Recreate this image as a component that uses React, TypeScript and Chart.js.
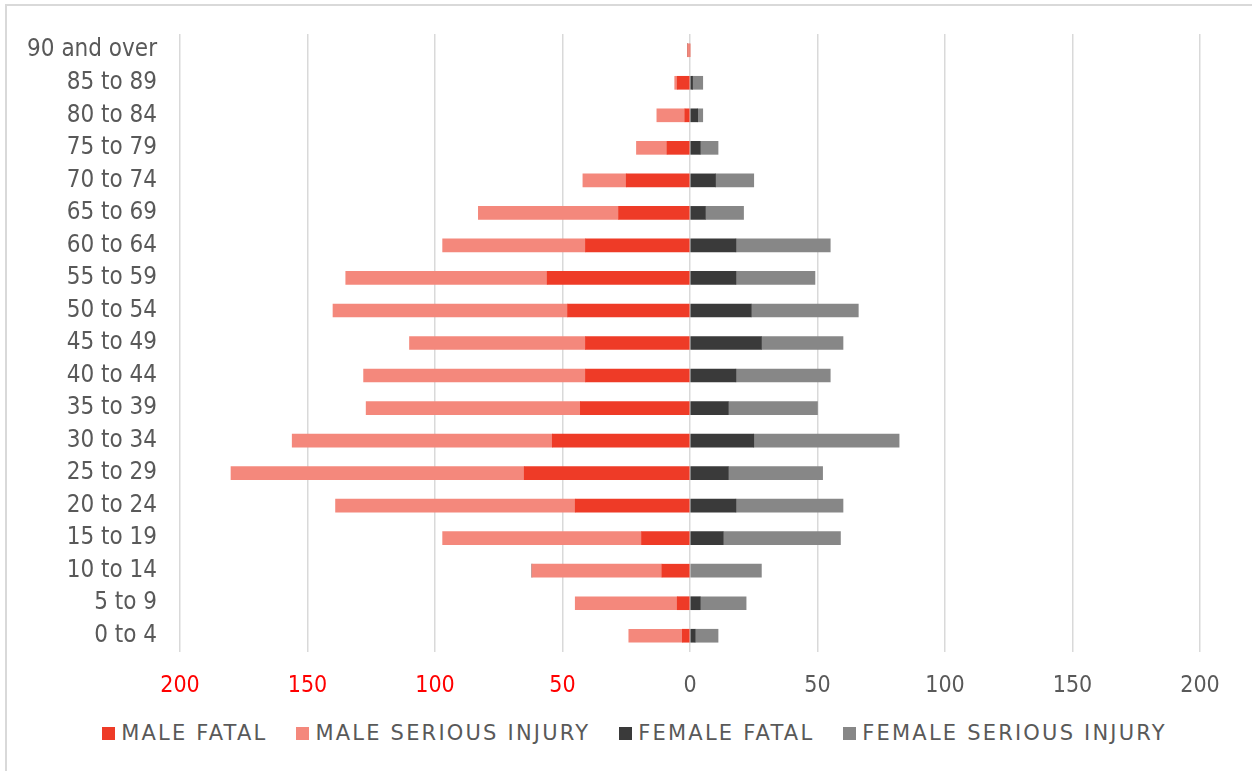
import React, { useEffect, useRef } from "react";
import { Chart, registerables } from "chart.js";

Chart.register(...registerables);

const ageGroups = [
  "90 and over", "85 to 89", "80 to 84", "75 to 79", "70 to 74", "65 to 69",
  "60 to 64", "55 to 59", "50 to 54", "45 to 49", "40 to 44", "35 to 39",
  "30 to 34", "25 to 29", "20 to 24", "15 to 19", "10 to 14", "5 to 9", "0 to 4",
];
const maleFatal = [0, 5, 2, 9, 25, 28, 41, 56, 48, 41, 41, 43, 54, 65, 45, 19, 11, 5, 3];
const maleSerious = [1, 1, 11, 12, 17, 55, 56, 79, 92, 69, 87, 84, 102, 115, 94, 78, 51, 40, 21];
const femaleFatal = [0, 1, 3, 4, 10, 6, 18, 18, 24, 28, 18, 15, 25, 15, 18, 13, 0, 4, 2];
const femaleSerious = [0, 4, 2, 7, 15, 15, 37, 31, 42, 32, 37, 35, 57, 37, 42, 46, 28, 18, 9];

const seriesNames = ["MALE FATAL", "MALE SERIOUS INJURY", "FEMALE FATAL", "FEMALE SERIOUS INJURY"];
const seriesColors = ["#EE3B27", "#F4887C", "#3A3A3A", "#878787"];
const xTicks = [-200, -150, -100, -50, 0, 50, 100, 150, 200];

const CANVAS_W = 1252;
const CANVAS_H = 712;

export default function App() {
  const ref = useRef<HTMLCanvasElement | null>(null);

  useEffect(() => {
    if (!ref.current) return;
    const chart = new Chart(ref.current, {
      type: "bar",
      data: {
        labels: ageGroups,
        datasets: [
          { label: seriesNames[0], data: maleFatal.map((v) => -v), backgroundColor: seriesColors[0], stack: "s" },
          { label: seriesNames[1], data: maleSerious.map((v) => -v), backgroundColor: seriesColors[1], stack: "s" },
          { label: seriesNames[2], data: femaleFatal, backgroundColor: seriesColors[2], stack: "s" },
          { label: seriesNames[3], data: femaleSerious, backgroundColor: seriesColors[3], stack: "s" },
        ],
      },
      options: {
        indexAxis: "y",
        responsive: false,
        animation: false,
        layout: { padding: { top: 34, right: 52, bottom: 0, left: 0 } },
        datasets: { bar: { barThickness: 13, borderWidth: 0 } },
        plugins: { legend: { display: false }, tooltip: { enabled: false } },
        scales: {
          x: {
            type: "linear",
            stacked: true,
            min: xTicks[0],
            max: xTicks[xTicks.length - 1],
            afterBuildTicks: (scale: any) => {
              scale.ticks = xTicks.map((v) => ({ value: v }));
            },
            afterFit: (scale: any) => {
              scale.height = 60;
              scale.paddingLeft = 0;
              scale.paddingRight = 0;
            },
            grid: { color: "#d9d9d9", lineWidth: 1.5, drawTicks: false },
            border: { display: false },
            ticks: {
              padding: 20,
              font: { family: "'DejaVu Sans Condensed', 'DejaVu Sans', sans-serif", size: 23 },
              color: (ctx: any) => (ctx.tick && ctx.tick.value < 0 ? "#FF0000" : "#595959"),
              callback: (v: any) => String(Math.abs(Number(v))),
            },
          },
          y: {
            stacked: true,
            afterFit: (scale: any) => {
              scale.width = 180;
              scale.paddingTop = 0;
              scale.paddingBottom = 0;
            },
            grid: { display: false, drawTicks: false },
            border: { display: false },
            ticks: {
              padding: 23,
              font: { family: "'DejaVu Sans Condensed', 'DejaVu Sans', sans-serif", size: 24 },
              color: "#595959",
              autoSkip: false,
            },
          },
        },
      },
    });
    return () => chart.destroy();
  }, []);

  return (
    <div style={{ position: "absolute", left: 0, top: 0, width: CANVAS_W, height: 771, background: "#fff", overflow: "hidden" }}>
      <div
        style={{
          position: "absolute",
          left: 5,
          top: 4,
          width: 1260,
          height: 780,
          borderLeft: "2px solid #d9d9d9",
          borderTop: "2px solid #d9d9d9",
          boxSizing: "border-box",
        }}
      />
      <canvas ref={ref} width={CANVAS_W} height={CANVAS_H} style={{ position: "absolute", left: 0, top: 0 }} />
      <div
        style={{
          position: "absolute",
          left: 11,
          top: 721,
          width: 1247,
          height: 24,
          display: "flex",
          justifyContent: "center",
          alignItems: "center",
          gap: 29,
          fontFamily: "'DejaVu Sans', sans-serif",
          fontSize: 21,
          letterSpacing: "2.2px",
          color: "#595959",
          lineHeight: "24px",
        }}
      >
        {seriesNames.map((name, i) => (
          <div key={name} style={{ display: "flex", alignItems: "center" }}>
            <span style={{ display: "inline-block", width: 13, height: 13, background: seriesColors[i], marginRight: 6 }} />
            <span>{name}</span>
          </div>
        ))}
      </div>
    </div>
  );
}
